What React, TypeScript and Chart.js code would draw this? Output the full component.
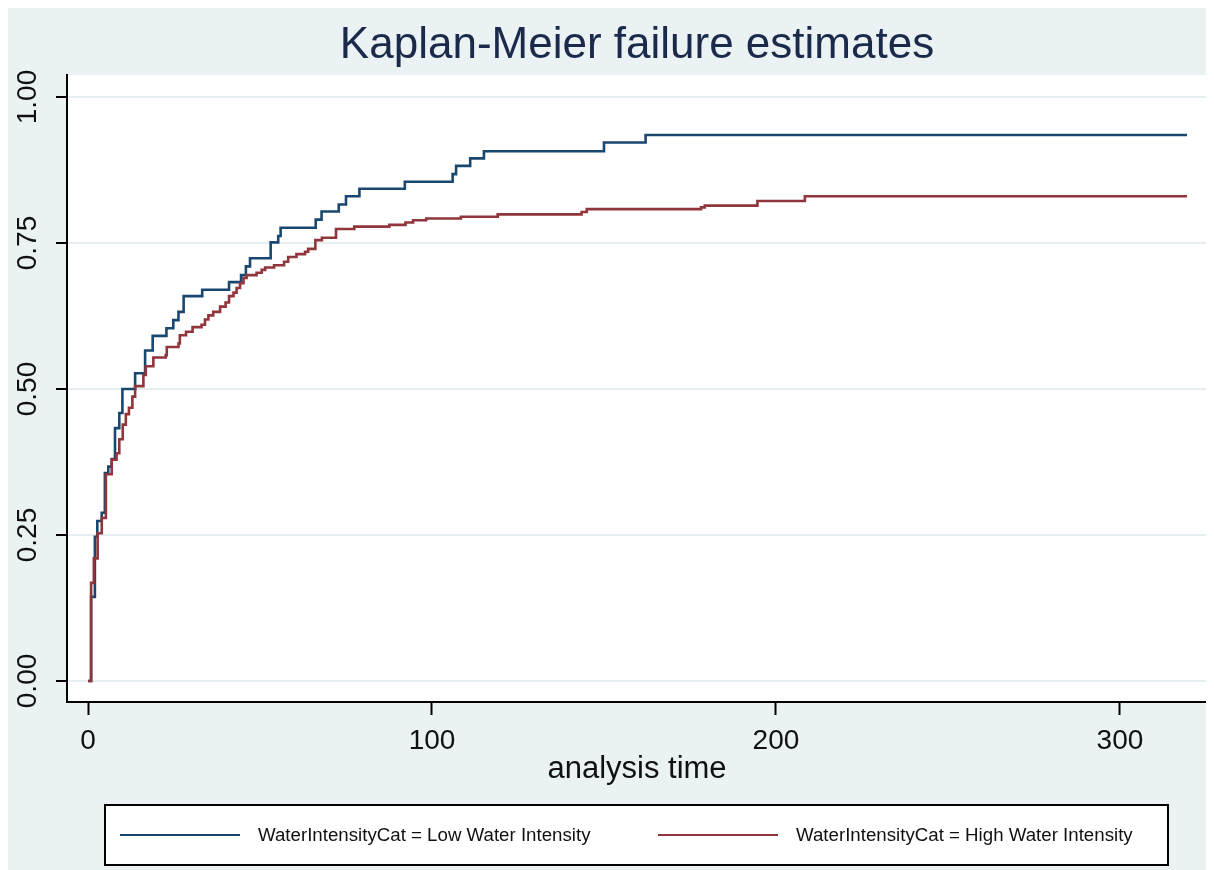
import React, { useEffect, useRef } from "react";
import { Chart, registerables } from "chart.js";

Chart.register(...registerables);

// ---- Data ----
const TITLE = "Kaplan-Meier failure estimates";
const X_TITLE = "analysis time";
const SERIES_LABELS = [
  "WaterIntensityCat = Low Water Intensity",
  "WaterIntensityCat = High Water Intensity",
];

const LOW_TIME = [
  0, 0.9, 2.0, 2.7, 4.0, 4.9, 5.9, 6.9, 7.85, 9.1, 10.0, 13.7, 16.6, 18.8,
  22.8, 24.8, 26.3, 27.8, 33.2, 41.0, 44.5, 45.9, 47.1, 53.1, 55.3, 56.0,
  66.2, 67.9, 72.9, 75.0, 78.9, 92.1, 106.0, 107.0, 111.1, 115.1, 150.0,
  162.1, 319.5,
];
const LOW_FAIL = [
  0, 0.144, 0.247, 0.274, 0.288, 0.356, 0.367, 0.38, 0.433, 0.459, 0.5,
  0.527, 0.566, 0.591, 0.604, 0.618, 0.632, 0.659, 0.67, 0.683, 0.695, 0.71,
  0.724, 0.751, 0.762, 0.776, 0.79, 0.804, 0.816, 0.83, 0.843, 0.855, 0.868,
  0.882, 0.895, 0.907, 0.922, 0.935, 0.935,
];

const HIGH_TIME = [
  0, 0.9, 1.7, 2.8, 4.0, 5.2, 6.9, 8.3, 9.1, 10.1, 11.0, 11.9, 12.9, 13.7,
  16.1, 16.8, 19.0, 22.6, 22.9, 26.3, 26.7, 28.5, 30.4, 33.0, 34.0, 35.0,
  36.4, 38.4, 40.0, 41.0, 42.3, 43.2, 44.2, 45.2, 46.1, 49.0, 50.5, 51.5,
  54.1, 57.0, 58.2, 60.6, 63.1, 64.0, 66.1, 68.0, 72.1, 77.4, 87.6, 92.3,
  94.5, 98.3, 108.4, 119.1, 143.5, 145.0, 178.2, 179.3, 194.6, 208.4, 319.5,
];
const HIGH_FAIL = [
  0, 0.168, 0.21, 0.253, 0.279, 0.354, 0.379, 0.39, 0.414, 0.439, 0.457,
  0.468, 0.487, 0.505, 0.524, 0.539, 0.554, 0.558, 0.572, 0.578, 0.592, 0.598,
  0.606, 0.61, 0.619, 0.626, 0.632, 0.641, 0.648, 0.659, 0.665, 0.673, 0.681,
  0.69, 0.695, 0.699, 0.704, 0.708, 0.712, 0.718, 0.726, 0.731, 0.735, 0.74,
  0.755, 0.759, 0.774, 0.778, 0.781, 0.785, 0.789, 0.792, 0.795, 0.799, 0.803,
  0.808, 0.811, 0.814, 0.822, 0.83, 0.83,
];

const X_TICKS = [0, 100, 200, 300];
const Y_TICKS = [0, 0.25, 0.5, 0.75, 1];

// ---- Styles ----
const BG = "#EAF2F3";
const GRID = "#E4EDF0";
const BLUE = "#1A476F";
const RED = "#90353B";
const TEXT = "#111111";
const TITLE_COLOR = "#1B2A4A";
const FONT = "'Liberation Sans', Arial, sans-serif";

const backgroundPlugin = {
  id: "stataBackground",
  beforeDraw(chart: any) {
    const { ctx, chartArea } = chart;
    ctx.save();
    ctx.fillStyle = BG;
    ctx.fillRect(0, 0, chart.width, chart.height);
    ctx.fillStyle = "#FFFFFF";
    ctx.fillRect(
      chartArea.left,
      chartArea.top,
      chartArea.right - chartArea.left,
      chartArea.bottom - chartArea.top
    );
    ctx.restore();
  },
};

const legendPlugin = {
  id: "stataLegend",
  afterDraw(chart: any) {
    const { ctx, chartArea } = chart;
    const left = chartArea.left + 38;
    const right = chartArea.right - 39;
    const top = chartArea.bottom + 103;
    const height = 60;
    const cy = top + height / 2;
    ctx.save();
    ctx.fillStyle = "#FFFFFF";
    ctx.fillRect(left, top, right - left, height);
    ctx.strokeStyle = "#000000";
    ctx.lineWidth = 2;
    ctx.strokeRect(left, top, right - left, height);
    const starts = [left + 15, left + 553];
    chart.data.datasets.forEach((ds: any, i: number) => {
      const sx = starts[i];
      ctx.strokeStyle = ds.borderColor;
      ctx.lineWidth = 2;
      ctx.beginPath();
      ctx.moveTo(sx, cy);
      ctx.lineTo(sx + 120, cy);
      ctx.stroke();
      ctx.fillStyle = TEXT;
      ctx.font = `18.7px ${FONT}`;
      ctx.textAlign = "left";
      ctx.textBaseline = "middle";
      ctx.fillText(ds.label, sx + 138, cy + 1);
    });
    ctx.restore();
  },
};

export default function App() {
  const ref = useRef<HTMLCanvasElement | null>(null);

  useEffect(() => {
    document.documentElement.style.overflow = "hidden";
    const canvas = ref.current;
    if (!canvas) return;
    const chart = new Chart(canvas, {
      type: "line",
      data: {
        datasets: [
          {
            label: SERIES_LABELS[0],
            data: LOW_TIME.map((t, i) => ({ x: t, y: LOW_FAIL[i] })),
            borderColor: BLUE,
            borderWidth: 2.6,
            pointRadius: 0,
            stepped: "before",
            fill: false,
            order: 1,
          },
          {
            label: SERIES_LABELS[1],
            data: HIGH_TIME.map((t, i) => ({ x: t, y: HIGH_FAIL[i] })),
            borderColor: RED,
            borderWidth: 2.6,
            pointRadius: 0,
            stepped: "before",
            fill: false,
            order: 0,
          },
        ],
      },
      options: {
        responsive: false,
        animation: false,
        devicePixelRatio: 1,
        layout: { padding: { top: 0, right: 7, bottom: 82, left: 0 } },
        plugins: {
          legend: { display: false },
          tooltip: { enabled: false },
          title: {
            display: true,
            text: TITLE,
            fullSize: false,
            color: TITLE_COLOR,
            font: { family: FONT, size: 44, weight: "normal", lineHeight: 1.2 },
            padding: { top: 11.6, bottom: 2.6 },
          },
        },
        scales: {
          x: {
            type: "linear",
            min: -6.105,
            max: 325.3,
            afterBuildTicks: (s: any) => {
              s.ticks = X_TICKS.map((v) => ({ value: v }));
            },
            afterFit: (s: any) => {
              s.height = 86;
            },
            grid: {
              drawOnChartArea: false,
              tickLength: 13,
              tickColor: "#000000",
              tickWidth: 2,
            },
            border: { color: "#000000", width: 2 },
            ticks: {
              font: { family: FONT, size: 28 },
              color: TEXT,
              padding: 9,
              minRotation: 0,
              maxRotation: 0,
              autoSkip: false,
            },
            title: {
              display: true,
              text: X_TITLE,
              font: { family: FONT, size: 31 },
              color: TEXT,
              padding: 0,
            },
          },
          y: {
            type: "linear",
            min: -0.036,
            max: 1.0377,
            afterBuildTicks: (s: any) => {
              s.ticks = Y_TICKS.map((v) => ({ value: v }));
            },
            afterFit: (s: any) => {
              s.width = 59;
            },
            grid: {
              color: GRID,
              lineWidth: 2,
              tickLength: 11,
              tickColor: "#000000",
              tickWidth: 2,
            },
            border: { color: "#000000", width: 2 },
            ticks: {
              font: { family: FONT, size: 28 },
              color: TEXT,
              padding: 0,
              minRotation: 90,
              maxRotation: 90,
              crossAlign: "center",
              autoSkip: false,
              callback: (v: any) => Number(v).toFixed(2),
            },
          },
        },
      },
      plugins: [backgroundPlugin, legendPlugin],
    } as any);
    return () => chart.destroy();
  }, []);

  return (
    <canvas
      ref={ref}
      width={1206}
      height={862}
      style={{ display: "block", width: 1206, height: 862 }}
    />
  );
}
